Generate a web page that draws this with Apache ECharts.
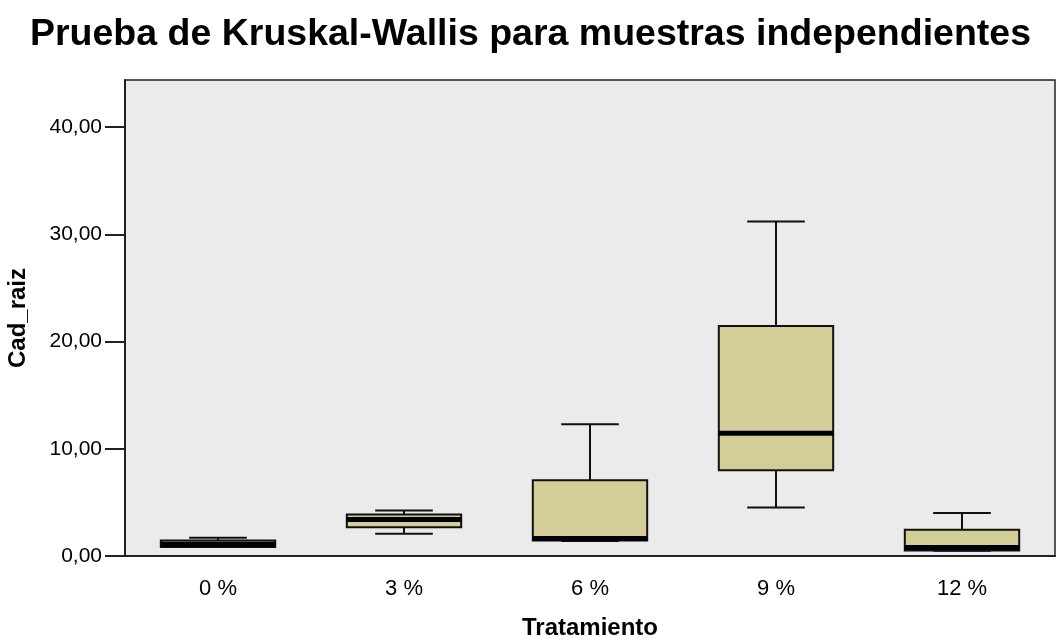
<!DOCTYPE html>
<html>
<head>
<meta charset="utf-8">
<script src="https://cdn.jsdelivr.net/npm/echarts@6/dist/echarts.min.js"></script>
<style>html,body{margin:0;padding:0;background:#fff}#c{width:1061px;height:639px}</style>
</head>
<body>
<div id="c"></div>
<script>
const categories = ['0 %', '3 %', '6 %', '9 %', '12 %'];
const lowWhisker = [0.85, 2.07, 1.40, 4.53, 0.50];
const q1 = [0.85, 2.69, 1.45, 7.99, 0.51];
const median = [1.10, 3.40, 1.64, 11.45, 0.80];
const q3 = [1.45, 3.88, 7.06, 21.45, 2.45];
const highWhisker = [1.71, 4.25, 12.29, 31.20, 4.00];
const yTicks = [0, 10, 20, 30, 40];

const data = categories.map((c, i) => [i, lowWhisker[i], q1[i], median[i], q3[i], highWhisker[i]]);

const chart = echarts.init(document.getElementById('c'), null, {renderer: 'canvas'});
chart.setOption({
  animation: false,
  backgroundColor: '#ffffff',
  title: {
    text: 'Prueba de Kruskal-Wallis para muestras independientes',
    left: 'center', top: 11,
    textStyle: {fontFamily: 'Liberation Sans', fontSize: 37.5, fontWeight: 'bold', color: '#000'}
  },
  grid: {left: 125, right: 6, top: 80, bottom: 83, outerBoundsMode: 'none', containLabel: false,
    show: true, backgroundColor: '#EBEBEB', borderColor: '#222', borderWidth: 1.5},
  xAxis: {
    type: 'category', data: categories,
    name: 'Tratamiento', nameLocation: 'middle', nameGap: 60,
    nameTextStyle: {fontFamily: 'Liberation Sans', fontSize: 24, fontWeight: 'bold', color: '#000'},
    axisLine: {lineStyle: {color: '#222', width: 2}},
    axisTick: {alignWithLabel: true, length: 16, lineStyle: {color: '#222', width: 2}},
    axisLabel: {fontFamily: 'Liberation Sans', fontSize: 22, color: '#000', margin: 22},
    splitLine: {show: false}
  },
  yAxis: {
    type: 'value', min: 0, max: 44.4,
    name: 'Cad_raiz', nameLocation: 'middle', nameGap: 95, nameRotate: 90,
    nameTextStyle: {fontFamily: 'Liberation Sans', fontSize: 24, fontWeight: 'bold', color: '#000'},
    axisLine: {show: true, lineStyle: {color: '#222', width: 2}},
    axisTick: {show: true, length: 20, customValues: yTicks, lineStyle: {color: '#222', width: 2}},
    axisLabel: {customValues: yTicks, fontFamily: 'Liberation Sans', fontSize: 21, color: '#000', margin: 23,
      formatter: v => v.toFixed(2).replace('.', ',')},
    splitLine: {show: false}
  },
  series: [{
    type: 'custom',
    data: data,
    encode: {x: 0, y: [1, 2, 3, 4, 5]},
    renderItem: function (params, api) {
      const idx = api.value(0);
      const band = api.size([1, 0])[0];
      const bw = band * 0.615, cw = band * 0.31;
      const pLow = api.coord([idx, api.value(1)]);
      const pQ1 = api.coord([idx, api.value(2)]);
      const pMed = api.coord([idx, api.value(3)]);
      const pQ3 = api.coord([idx, api.value(4)]);
      const pHigh = api.coord([idx, api.value(5)]);
      const x = pQ1[0];
      const ls = {stroke: '#111', lineWidth: 2};
      return {
        type: 'group',
        children: [
          {type: 'line', shape: {x1: x, y1: pHigh[1], x2: x, y2: pQ3[1]}, style: ls},
          {type: 'line', shape: {x1: x - cw / 2, y1: pHigh[1], x2: x + cw / 2, y2: pHigh[1]}, style: ls},
          {type: 'line', shape: {x1: x, y1: pLow[1], x2: x, y2: pQ1[1]}, style: ls},
          {type: 'line', shape: {x1: x - cw / 2, y1: pLow[1], x2: x + cw / 2, y2: pLow[1]}, style: ls},
          {type: 'rect', shape: {x: x - bw / 2, y: pQ3[1], width: bw, height: pQ1[1] - pQ3[1]},
            style: {fill: '#D3CE97', stroke: '#111', lineWidth: 2}},
          {type: 'line', shape: {x1: x - bw / 2, y1: pMed[1], x2: x + bw / 2, y2: pMed[1]},
            style: {stroke: '#000', lineWidth: 5}}
        ]
      };
    }
  }]
});
</script>
</body>
</html>
